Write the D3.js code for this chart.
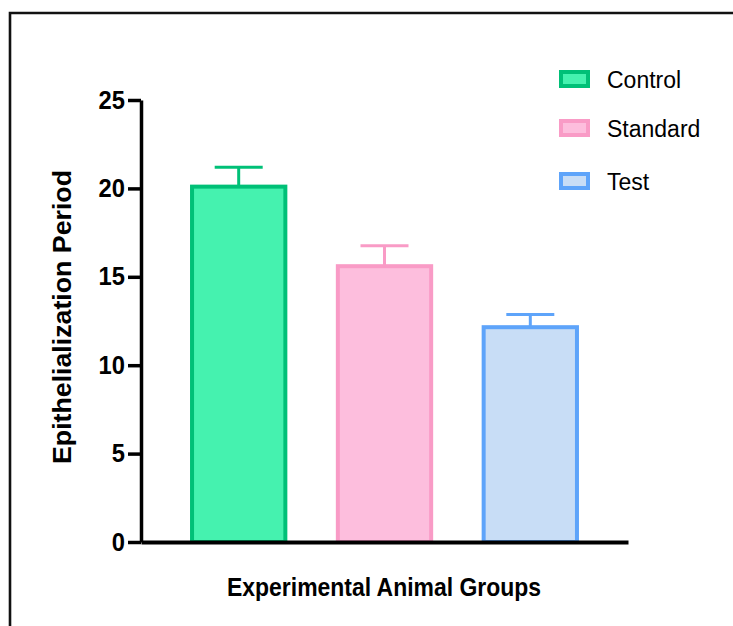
<!DOCTYPE html>
<html>
<head>
<meta charset="utf-8">
<script src="https://cdn.jsdelivr.net/npm/d3@7"></script>
<style>
  html, body { margin: 0; padding: 0; background: #ffffff; }
  svg { display: block; }
  text { font-family: "Liberation Sans", Arial, sans-serif; fill: #000; }
</style>
</head>
<body>
<svg id="chart" width="733" height="626"></svg>
<script>
// Group names, mean epithelialization period and its error (upper bar only)
const groups = ["Control", "Standard", "Test"];
const means = [20.1, 15.6, 12.15];
const errors = [1.1, 1.15, 0.72];
const yTicks = [0, 5, 10, 15, 20, 25];
const fillColors = ["#45F2AF", "#FDBEDD", "#C8DDF6"];
const strokeColors = ["#00C077", "#F99BC6", "#5EA4FA"];

const svg = d3.select("#chart");

// Outer frame (left and top edges)
svg.append("path")
  .attr("d", "M10,626 L10,13 L733,13")
  .attr("fill", "none")
  .attr("stroke", "#111")
  .attr("stroke-width", 2.6);

const y = d3.scaleLinear().domain([0, 25]).range([542, 100]);
const x = d3.scaleBand().domain(groups).range([141, 628])
  .paddingInner(0.36).paddingOuter(0.35);

// Bars
const bars = svg.append("g");
groups.forEach((g, i) => {
  bars.append("rect")
    .attr("x", x(g))
    .attr("y", y(means[i]))
    .attr("width", x.bandwidth())
    .attr("height", y(0) - y(means[i]))
    .attr("fill", fillColors[i])
    .attr("stroke", strokeColors[i])
    .attr("stroke-width", 4);
});

// Error bars (upper whisker + cap)
groups.forEach((g, i) => {
  const cx = x(g) + x.bandwidth() / 2;
  const top = y(means[i] + errors[i]);
  bars.append("line")
    .attr("x1", cx).attr("x2", cx)
    .attr("y1", y(means[i])).attr("y2", top)
    .attr("stroke", strokeColors[i]).attr("stroke-width", 3);
  bars.append("line")
    .attr("x1", cx - 24).attr("x2", cx + 24)
    .attr("y1", top).attr("y2", top)
    .attr("stroke", strokeColors[i]).attr("stroke-width", 3);
});

// Y axis
const yAxis = svg.append("g")
  .attr("transform", "translate(141,0)")
  .call(d3.axisLeft(y).tickValues(yTicks).tickSize(13).tickSizeOuter(0).tickPadding(4));
yAxis.select(".domain").attr("stroke", "#000").attr("stroke-width", 3.5);
yAxis.selectAll(".tick line").attr("stroke", "#000").attr("stroke-width", 3.5);
yAxis.selectAll(".tick text")
  .style("font-family", "'Liberation Sans', Arial, sans-serif")
  .style("font-size", "25px").style("font-weight", "bold").attr("fill", "#000")
  .attr("transform", "scale(0.95,1)");

// X axis (baseline only)
const xAxis = svg.append("g")
  .attr("transform", "translate(0,542)")
  .call(d3.axisBottom(x).tickSize(0).tickSizeOuter(0).tickFormat(""));
xAxis.select(".domain").attr("stroke", "#000").attr("stroke-width", 4);

// Axis titles
svg.append("text")
  .attr("x", 384).attr("y", 596)
  .attr("text-anchor", "middle")
  .attr("textLength", 314).attr("lengthAdjust", "spacingAndGlyphs")
  .style("font-size", "25px").style("font-weight", "bold")
  .text("Experimental Animal Groups");

svg.append("text")
  .attr("transform", "translate(71,317) rotate(-90)")
  .attr("text-anchor", "middle")
  .attr("textLength", 294).attr("lengthAdjust", "spacingAndGlyphs")
  .style("font-size", "25px").style("font-weight", "bold")
  .text("Epithelialization Period");

// Legend
const legendY = [79, 128, 181];
const legend = svg.append("g");
groups.forEach((g, i) => {
  legend.append("rect")
    .attr("x", 561).attr("y", legendY[i] - 7)
    .attr("width", 27).attr("height", 14)
    .attr("fill", fillColors[i])
    .attr("stroke", strokeColors[i])
    .attr("stroke-width", 4);
  legend.append("text")
    .attr("x", 607).attr("y", legendY[i] + 8.5)
    .style("font-size", "23px")
    .text(g);
});
</script>
</body>
</html>
